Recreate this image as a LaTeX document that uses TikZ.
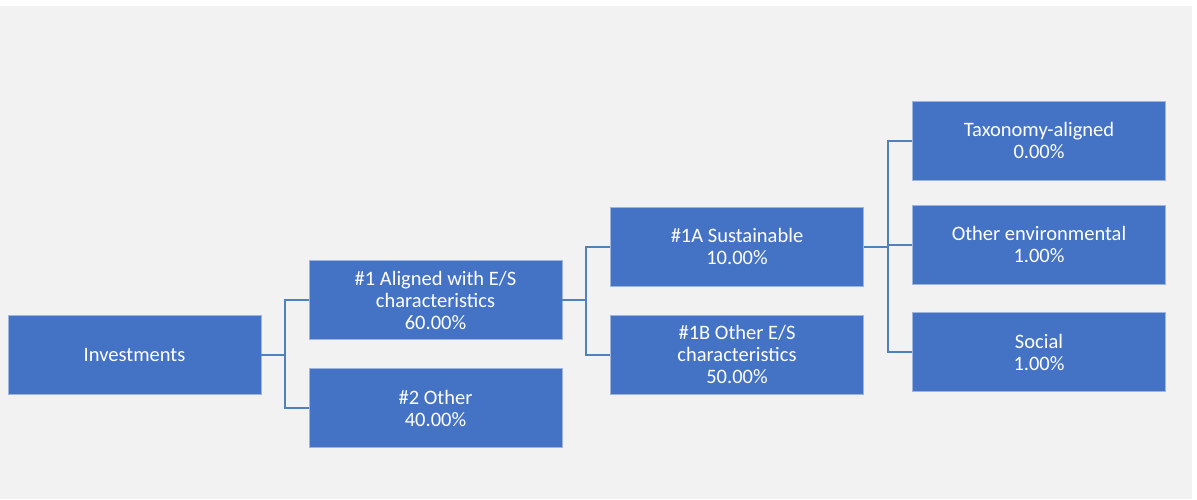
\documentclass[tikz,border=0pt]{standalone}
\usepackage{fontspec}
\setmainfont{Carlito}
\usetikzlibrary{%
  positioning,% wg. " of "
  calc%
}
\definecolor{boxblue}{HTML}{4472C4}
\definecolor{boxedge}{HTML}{9DB4E0}
\definecolor{linkblue}{HTML}{4F81BD}
\definecolor{bggray}{HTML}{F2F2F2}

\begin{document}
\begin{tikzpicture}[x=1pt,y=-1pt,
	category/.style={
	rectangle,
	minimum width=253pt,
	minimum height=79pt,
	inner sep=0pt,
	fill=boxblue,
	draw=boxedge,
	line width=0.8pt,
	text=white,
	align=center,
	font=\fontsize{20.5}{22}\selectfont
	},link/.style={
	draw=linkblue,
	line width=2pt
	}
]

% background
\useasboundingbox (0,0) rectangle (1197,499);
\fill[white] (0,0) rectangle (1197,499);
\fill[bggray] (0,6) rectangle (1192,499);

% First column
\node (atomInv) [category] at (134.5,354.5) {Investments};
% Second column
\node (atomAligned) [category] at (435.5,300) {\#1 Aligned with E/S\\characteristics\\60.00\%};
\node (atomOther) [category] at (435.5,408) {\#2 Other\\40.00\%};
% Third column
\node (atomSust) [category] at (737,246.5) {\#1A Sustainable\\10.00\%};
\node (atomOtherES) [category] at (737,354.5) {\#1B Other E/S\\characteristics\\50.00\%};
% Fourth column
\node (atomTax) [category] at (1039,140.5) {Taxonomy-aligned\\0.00\%};
\node (atomEnv) [category] at (1039,244.5) {Other environmental\\1.00\%};
\node (atomSoc) [category] at (1039,352) {Social\\1.00\%};

%(x,y) junctions
\coordinate (POSA) at ($(atomInv.east)+(24,0)$);
\coordinate (POSB) at ($(atomAligned.east)+(24,0)$);
\coordinate (POSC) at ($(atomSust.east)+(24,0)$);

\draw[link] (atomInv.east) -- (POSA);
\draw[link] (POSA) |- (atomAligned.west);
\draw[link] (POSA) |- (atomOther.west);

\draw[link] (atomAligned.east) -- (POSB);
\draw[link] (POSB) |- (atomSust.west);
\draw[link] (POSB) |- (atomOtherES.west);

\draw[link] (atomSust.east) -- (POSC);
\draw[link] (POSC) |- (atomTax.west);
\draw[link] (POSC) |- (atomEnv.west);
\draw[link] (POSC) |- (atomSoc.west);

\end{tikzpicture}
\end{document}
